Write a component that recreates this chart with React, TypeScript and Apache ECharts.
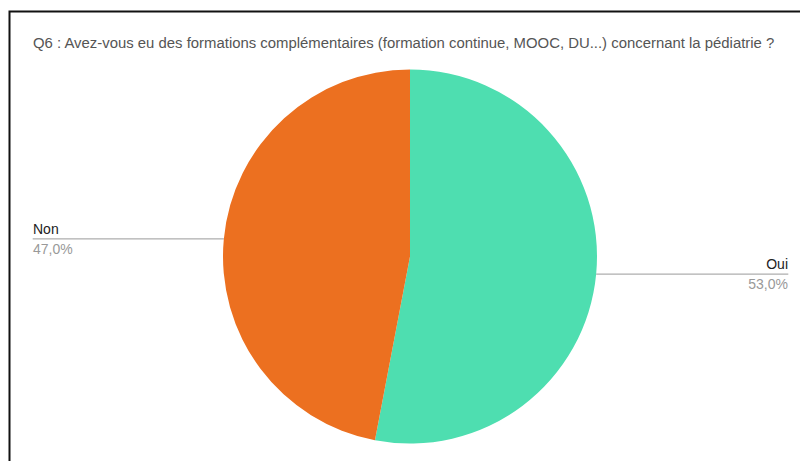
import React, { useEffect, useRef } from "react";
import * as echarts from "echarts";

const TITLE = "Q6 : Avez-vous eu des formations complémentaires (formation continue, MOOC, DU...) concernant la pédiatrie ?";
const categories = ["Oui", "Non"];
const values = [53.0, 47.0];
const colors = ["#4EDEB0", "#EC7020"];
const edgeDistances = [12, 33];

export default function App() {
  const ref = useRef<HTMLDivElement>(null);
  useEffect(() => {
    if (!ref.current) return;
    const chart = echarts.init(ref.current, null, { renderer: "svg" });
    const font = "'Liberation Sans', Arial, Helvetica, sans-serif";
    chart.setOption({
      animation: false,
      backgroundColor: "#ffffff",
      title: {
        text: TITLE,
        left: 28,
        top: 30,
        textStyle: { fontFamily: font, fontSize: 14.9, fontWeight: "normal", color: "#555555" },
      },
      graphic: [
        {
          type: "polyline",
          shape: { points: [[9.5, 461], [9.5, 11.5], [800, 11.5]] },
          style: { stroke: "#111111", lineWidth: 2, fill: null },
          silent: true,
        },
      ],
      series: [
        {
          type: "pie",
          center: [410, 256.5],
          radius: 187,
          startAngle: 90,
          clockwise: true,
          avoidLabelOverlap: true,
          data: categories.map((c, i) => ({
            name: c,
            value: values[i],
            itemStyle: { color: colors[i] },
            label: { edgeDistance: edgeDistances[i] },
          })),
          label: {
            show: true,
            position: "outside",
            alignTo: "edge",
            distanceToLabelLine: -40,
            fontFamily: font,
            fontSize: 14,
            lineHeight: 20,
            color: "#999999",
            formatter: (p: any) =>
              `{name|${p.name}}\n${p.value.toFixed(1).replace(".", ",")}%`,
            rich: {
              name: { fontFamily: font, fontSize: 14, color: "#222222", lineHeight: 20 },
            },
          },
          labelLine: {
            show: true,
            length: 0,
            length2: 10,
            lineStyle: { color: "#999999", width: 1 },
          },
        },
      ],
    });
    return () => chart.dispose();
  }, []);
  return (
    <div
      ref={ref}
      style={{ position: "fixed", left: 0, top: 0, width: 800, height: 461 }}
    />
  );
}
